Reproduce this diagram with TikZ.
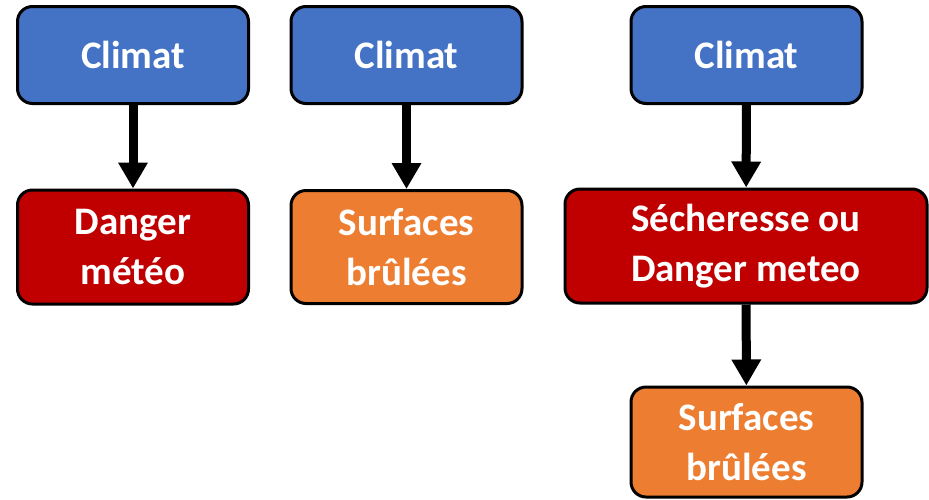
\documentclass[tikz,border=0pt]{standalone}
\usepackage{fontspec}
\setmainfont{Carlito}
\usepackage{xcolor}
\usetikzlibrary{arrows.meta}

\definecolor{climblue}{HTML}{4472C4}
\definecolor{dangred}{HTML}{C00000}
\definecolor{surforange}{HTML}{ED7D31}

\begin{document}
\begin{tikzpicture}[x=1pt,y=-1pt,
    box/.style={draw=black,line width=3pt,rounded corners=15pt,text=white,
      align=center,inner sep=0pt,minimum width=231pt,
      font=\bfseries\fontsize{39}{50}\selectfont},
    clim/.style={box,fill=climblue,minimum height=97pt},
    dang/.style={box,fill=dangred,minimum height=114pt},
    surf/.style={box,fill=surforange,minimum height=113pt},
    ->,>={Triangle[length=26pt,width=28pt]},line width=9pt]
  \useasboundingbox (0,0) rectangle (929,499);

  % first chain
  \node[clim] (c1) at (133,55) {Climat};
  \node[dang] (d1) at (133,247) {Danger\\météo};

  % second chain
  \node[clim] (c2) at (406.5,55) {Climat};
  \node[surf] (s2) at (406.5,247) {Surfaces\\brûlées};

  % third chain
  \node[clim] (c3) at (746.5,55) {Climat};
  \node[dang,minimum width=362pt] (d3) at (746,246) {Sécheresse ou\\Danger meteo};
  \node[surf,minimum height=110pt] (s3) at (746.5,442) {Surfaces\\brûlées};

  \path (c1) edge (d1)
        (c2) edge (s2)
        (c3) edge (d3)
        (d3) edge (s3)
        ;
\end{tikzpicture}
\end{document}
